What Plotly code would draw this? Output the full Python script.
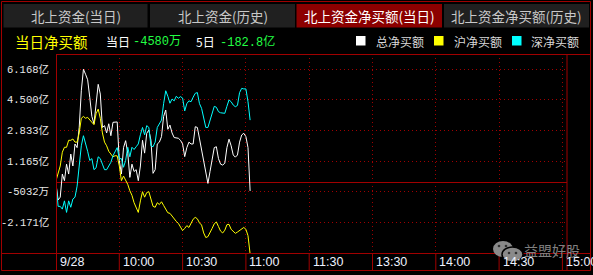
import plotly.graph_objects as go

# ---------------- data ----------------
minutes = list(range(93))  # minutes since 9:30

total_net = [
    -0.10, -0.95, -0.80, 0.46, 0.10, 1.00, 0.46, 1.55, 0.90, 2.10,
    1.90, 3.00, 5.00, 6.17, 5.90, 5.60, 4.64, 3.60, 3.20, 4.20,
    5.35, 4.82, 3.00, 3.10, 2.70, 3.20, 2.55, 3.28, 3.30, 3.30,
    1.20, 0.46, 1.90, 2.28, 1.60, 0.28, 1.00, 0.60, 0.70, 0.10,
    0.90, 2.30, 1.60, 2.68, 2.86, 2.30, 0.50, 0.70, 2.10, 2.20,
    2.50, 3.60, 3.95, 2.90, 3.13, 2.70, 2.45, 2.45, 2.41, 2.30,
    2.10, 1.41, 1.90, 2.20, 2.10, 2.10, 3.04, 3.00, 2.40, 1.77,
    1.10, 0.40, -0.05, 0.60, 1.20, 1.90, 1.95, 1.30, 1.00, 0.95,
    1.05, 1.90, 2.36, 2.00, 1.50, 1.38, 1.50, 2.20, 2.59, 2.68,
    2.50, 1.90, -0.46,
]
sh_net = [
    0.10, 0.46, 0.90, 1.65, 1.92, 1.92, 2.30, 2.30, 2.37, 2.20,
    2.20, 2.70, 3.50, 3.60, 3.50, 3.55, 3.40, 3.30, 3.15, 3.75,
    4.00, 3.50, 2.70, 2.20, 2.00, 1.70, 1.55, 1.40, 1.46, 1.45,
    0.90, 0.10, 0.35, 0.15, -0.10, -0.45, -0.70, -1.10, -1.40, -1.63,
    -1.00, -0.50, -0.80, -0.55, -0.50, -0.95, -1.30, -1.35, -1.10, -1.20,
    -1.05, -1.25, -1.45, -1.65, -1.68, -1.85, -2.00, -2.12, -2.23, -2.40,
    -2.62, -2.50, -2.35, -2.45, -2.25, -2.00, -1.90, -1.98, -2.20, -2.32,
    -2.75, -3.00, -2.95, -2.68, -2.50, -2.25, -2.15, -2.40, -2.65, -2.75,
    -2.60, -2.30, -2.28, -2.55, -2.68, -2.77, -2.70, -2.60, -2.50, -2.45,
    -2.55, -2.90, -3.90,
]
sz_net = [
    0.00, -1.30, -1.30, -1.45, -1.00, -1.63, -1.00, -1.35, -0.90, -0.80,
    -0.20, 1.00, 2.00, 2.55, 2.15, 1.70, 1.20, 1.30, 0.70, 0.80,
    1.40, 1.30, 1.00, 0.70, 0.70, 0.90, 1.10, 1.46, 1.73, 1.90,
    1.30, 1.30, 0.83, 1.20, 1.92, 1.40, 1.92, 1.80, 1.95, 2.10,
    2.60, 3.00, 2.60, 3.10, 3.00, 2.00, 1.95, 2.20, 3.00, 3.20,
    3.40, 4.30, 5.00, 4.70, 4.32, 4.55, 4.45, 4.70, 4.59, 4.68,
    4.60, 3.90, 4.30, 4.45, 4.40, 4.65, 4.86, 4.90, 4.30, 4.04,
    3.60, 3.00, 3.00, 3.40, 3.85, 4.15, 4.10, 3.86, 3.80, 3.77,
    3.77, 4.15, 4.50, 4.40, 4.22, 4.13, 4.20, 4.90, 5.13, 5.10,
    5.10, 4.40, 3.40,
]

series_names = ["总净买额", "沪净买额", "深净买额"]
series_colors = ["#ffffff", "#ffff00", "#00ffff"]

y_tick_vals = [6.168, 4.500, 2.833, 1.165, -0.5032, -2.171]
y_tick_text = ["6.168亿", "4.500亿", "2.833亿", "1.165亿", "-5032万", "-2.171亿"]

x_tick_minutes = [0, 30, 60, 90, 120, 150, 180, 210, 240]
x_tick_text = ["9/28", "10:00", "10:30", "11:00", "11:30", "13:30", "14:00", "14:30", "15:00"]

tab_labels = ["北上资金(当日)", "北上资金(历史)", "北上资金净买额(当日)", "北上资金净买额(历史)"]
active_tab = 2

title_text = "当日净买额"
day_label, day_value = "当日", "-4580万"
five_label, five_value = "5日", "-182.8亿"
watermark = "益盟好股"

# ---------------- geometry ----------------
W, H = 593, 275
L, R, T, B = 56, 26, 54, 22
PW = W - L - R
PH = H - T - B
PX_PER_MIN = 2.11
Y_RANGE = [-3.842, 7.003]

def px(x):
    return (x - L) / PW

def py(y):
    return (H - B - y) / PH

RED = "#a00000"
CJK = "Noto Sans CJK SC"
MONO = "Liberation Mono, Noto Sans CJK SC"

fig = go.Figure()
for name, vals, col in zip(series_names, [total_net, sh_net, sz_net], series_colors):
    fig.add_trace(go.Scatter(x=minutes, y=vals, mode="lines", name=name,
                             line=dict(color=col, width=1), hoverinfo="skip",
                             showlegend=False))

shapes = []
def hline(y, x0, x1):
    shapes.append(dict(type="line", xref="paper", yref="paper", x0=px(x0), x1=px(x1),
                       y0=py(y), y1=py(y), line=dict(color=RED, width=1)))
def vline(x, y0, y1):
    shapes.append(dict(type="line", xref="paper", yref="paper", x0=px(x), x1=px(x),
                       y0=py(y0), y1=py(y1), line=dict(color=RED, width=1)))
def rect(x0, y0, x1, y1, fill):
    shapes.append(dict(type="rect", xref="paper", yref="paper", x0=px(x0), x1=px(x1),
                       y0=py(y1), y1=py(y0), fillcolor=fill,
                       line=dict(width=0), layer="below"))

# tabs
tab_x = [(3.5, 147.5), (150, 295), (296.5, 442), (444, 589)]
for i, (x0, x1) in enumerate(tab_x):
    rect(x0, 4, x1, 27.5, "#8c0000" if i == active_tab else "#202020")

# frame lines
shapes.append(dict(type="rect", xref="paper", yref="paper", x0=px(1.5), x1=px(590.5),
                   y0=py(270.5), y1=py(1.5), line=dict(color=RED, width=1)))
hline(54.5, 56, 590.5)
hline(253.5, 1.5, 590.5)
vline(56.5, 54.5, 270.5)
vline(567, 54.5, 270.5)
for m in x_tick_minutes:
    shapes.append(dict(type="line", xref="x", yref="paper", x0=m, x1=m,
                       y0=py(253.5), y1=py(270.5), line=dict(color=RED, width=1)))

# legend squares
for x0, col in zip([356, 434, 512], series_colors):
    shapes.append(dict(type="rect", xref="paper", yref="paper", x0=px(x0), x1=px(x0 + 9.5),
                       y0=py(45.5), y1=py(36), fillcolor=col, line=dict(width=0)))

# watermark icon
def circ(x0, y0, x1, y1, fill, lw=0, lc="#000000"):
    shapes.append(dict(type="circle", xref="paper", yref="paper", x0=px(x0), x1=px(x1),
                       y0=py(y1), y1=py(y0), fillcolor=fill, line=dict(width=lw, color=lc)))
circ(493, 241, 513, 257, "#8a8a8a")
circ(502, 247, 523, 262, "#8a8a8a", 1.5, "#000000")
for (cx, cy) in [(499, 246), (506, 246), (509, 253), (516, 253)]:
    circ(cx - 1.3, cy - 1.3, cx + 1.3, cy + 1.3, "#303030")

annotations = []
def text(x, y, s, size, color, family=CJK, anchor="left"):
    annotations.append(dict(xref="paper", yref="paper", x=px(x), y=py(y), text=s,
                            showarrow=False, xanchor=anchor, yanchor="middle",
                            font=dict(family=family, size=size, color=color),
                            borderpad=0, borderwidth=0))

for i, ((x0, x1), lab) in enumerate(zip(tab_x, tab_labels)):
    text((x0 + x1) / 2, 16, lab, 13.5, "#ffffff" if i == active_tab else "#c8c8c8", anchor="center")

text(15, 41.5, title_text, 14.5, "#ffff00")
text(106, 41.5, day_label, 12, "#ffffff")
text(133, 41.5, day_value, 12, "#22ff44", MONO)
text(196, 41.5, five_label, 12, "#ffffff")
text(220, 41.5, five_value, 12, "#22ff44", MONO)
for x0, nm in zip([375.5, 453.5, 531], series_names):
    text(x0, 41, nm, 12, "#d8d8d8")

# watermark text (drawn under the time labels)
text(552, 250, watermark, 14, "#808080", anchor="center")

for v, t in zip(y_tick_vals, y_tick_text):
    annotations.append(dict(xref="paper", yref="y", x=px(49.5), y=v, text=t, showarrow=False,
                            xanchor="right", yanchor="middle", borderpad=0,
                            font=dict(family=MONO, size=10.5, color="#e8e8e8")))
for m, t in zip(x_tick_minutes, x_tick_text):
    annotations.append(dict(xref="x", yref="paper", x=m, y=py(262), text=t, showarrow=False,
                            xanchor="left", yanchor="middle", xshift=2.5, borderpad=0,
                            font=dict(family="Liberation Sans, Arial", size=12.5, color="#eef2ff")))

fig.update_layout(
    width=W, height=H, autosize=False,
    margin=dict(l=L, r=R, t=T, b=B, pad=0),
    paper_bgcolor="#000000", plot_bgcolor="#000000",
    shapes=shapes, annotations=annotations,
    xaxis=dict(range=[0, PW / PX_PER_MIN], tickvals=x_tick_minutes[1:], showticklabels=False,
               ticks="", showgrid=True, gridcolor=RED, griddash="1px,3px", gridwidth=1,
               zeroline=False, showline=False, fixedrange=True),
    yaxis=dict(range=Y_RANGE, tickvals=y_tick_vals, showticklabels=False, ticks="",
               showgrid=True, gridcolor=RED, griddash="1px,3px", gridwidth=1,
               zeroline=True, zerolinecolor=RED, zerolinewidth=1,
               showline=False, fixedrange=True),
)

fig.write_html("out.html", config={"displayModeBar": False})
